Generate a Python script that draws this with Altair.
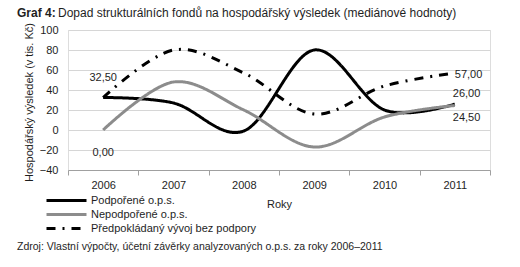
import altair as alt
import pandas as pd

years = ["2006", "2007", "2008", "2009", "2010", "2011"]
series_names = ["Podpořené o.p.s.", "Nepodpořené o.p.s.", "Předpokládaný vývoj bez podpory"]
podporene = [32.5, 27, -1, 80, 20, 26]
nepodporene = [0, 48, 20, -17, 13, 24.5]
predpoklad = [32.5, 80, 57, 16, 44, 57]

label_text = ["32,50", "0,00", "57,00", "26,00", "24,50"]
label_year = ["2006", "2006", "2011", "2011", "2011"]
label_value = [32.5, 0, 57, 26, 24.5]

title_bold = "Graf 4:"
title_rest = "Dopad strukturálních fondů na hospodářský výsledek (mediánové hodnoty)"
source_text = "Zdroj: Vlastní výpočty, účetní závěrky analyzovaných o.p.s. za roky 2006–2011"
y_title = "Hospodářský výsledek (v tis. Kč)"
x_title = "Roky"
y_ticks = [-40, -20, 0, 20, 40, 60, 80, 100]

rows = []
for name, vals in zip(series_names, [podporene, nepodporene, predpoklad]):
    for y, v in zip(years, vals):
        rows.append({"rok": y, "serie": name, "hodnota": v})
df = pd.DataFrame(rows)

lab = pd.DataFrame({"rok": label_year, "hodnota": label_value, "txt": label_text})

FONT = "Liberation Sans"
TXT = "#1e1e1e"

legend_kw = dict(title=None, orient="none", legendX=-23, legendY=164, padding=0,
                 symbolType="M-1,0H7", symbolSize=100, symbolStrokeWidth=3,
                 symbolFillColor="transparent", labelLimit=400,
                 labelFontSize=11, rowPadding=1, labelOffset=33, symbolOffset=0)

xscale = alt.Scale(type="band", paddingInner=0, paddingOuter=0, domain=years)
xaxis = alt.Axis(title=x_title, labelAngle=0, tickBand="extent", tickSize=5,
                 tickColor="#a0a0a0", domainColor="#a0a0a0", labelPadding=4,
                 titlePadding=8, titleFontWeight="normal", titleFontSize=11,
                 labelFontSize=11, grid=False)
yscale = alt.Scale(domain=[-40, 100], nice=False, zero=False)
yaxis = alt.Axis(title=y_title, values=y_ticks, domain=False,
                 ticks=False, gridColor="#d6d6d6", labelPadding=10,
                 labelOverlap=False, labelFlush=False, labelBound=False,
                 titleX=-39, titleY=72, titleAlign="center", titleBaseline="middle",
                 titleFontWeight="normal", titleFontSize=11, labelFontSize=11)

lines = alt.Chart(df).mark_line(interpolate="cardinal", strokeWidth=3).encode(
    x=alt.X("rok:N", sort=years, bandPosition=0.5, scale=xscale, axis=xaxis),
    y=alt.Y("hodnota:Q", scale=yscale, axis=yaxis),
    color=alt.Color("serie:N", sort=series_names,
                    scale=alt.Scale(domain=series_names, range=["#000000", "#8c8c8c", "#000000"]),
                    legend=alt.Legend(**legend_kw)),
    strokeDash=alt.StrokeDash("serie:N", sort=series_names,
                              scale=alt.Scale(domain=series_names,
                                              range=[[1, 0], [1, 0], [9, 7, 2, 7]]),
                              legend=alt.Legend(**legend_kw)),
)

def lbl(i, align, dx, dy):
    return alt.Chart(lab.iloc[[i]]).mark_text(align=align, baseline="middle", dx=dx, dy=dy,
                                               fontSize=11, color=TXT, font=FONT).encode(
        x=alt.X("rok:N", sort=years, bandPosition=0.5, scale=xscale, axis=xaxis),
        y=alt.Y("hodnota:Q", scale=yscale, axis=yaxis),
        text="txt:N")

labels = [lbl(0, "center", 0, -20), lbl(1, "center", 0, 23), lbl(2, "left", 0, 2),
          lbl(3, "left", -2, -10), lbl(4, "left", -2, 12)]

tb = alt.Chart(pd.DataFrame({"t": [title_bold]})).mark_text(
    align="left", baseline="middle", fontSize=12, fontWeight="bold", font=FONT, color=TXT
).encode(x=alt.value(-51), y=alt.value(-17), text="t:N")
tr = alt.Chart(pd.DataFrame({"t": [title_rest]})).mark_text(
    align="left", baseline="middle", fontSize=12, font=FONT, color=TXT
).encode(x=alt.value(-10), y=alt.value(-17), text="t:N")
src = alt.Chart(pd.DataFrame({"t": [source_text]})).mark_text(
    align="left", baseline="middle", fontSize=10.5, font=FONT, color=TXT
).encode(x=alt.value(-51), y=alt.value(217), text="t:N")

chart = alt.layer(lines, *labels, tb, tr, src).properties(
    width=422, height=140,
    autosize=alt.AutoSizeParams(type="none"),
    padding={"left": 68, "top": 30, "right": 30, "bottom": 97},
).configure_view(strokeWidth=0).configure(
    font=FONT
).configure_axis(labelColor=TXT, titleColor=TXT, labelFont=FONT, titleFont=FONT,
                 labelOverlap=False
).configure_legend(labelColor=TXT, labelFont=FONT)

chart.save("out.html", embed_options={"renderer": "svg", "actions": False})
